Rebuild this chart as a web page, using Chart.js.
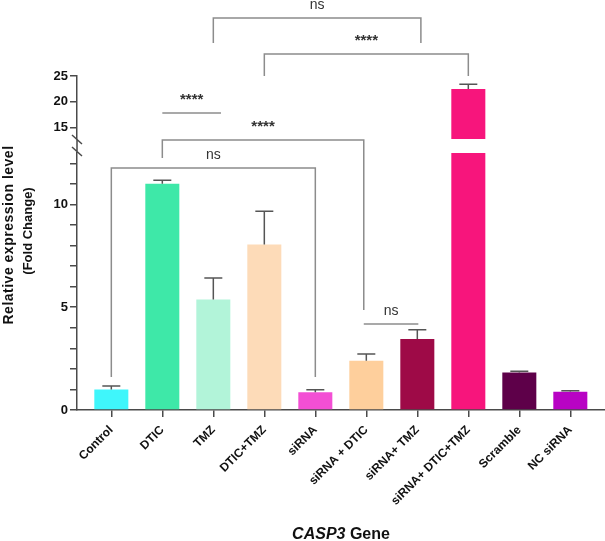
<!DOCTYPE html>
<html>
<head>
<meta charset="utf-8">
<script src="https://cdn.jsdelivr.net/npm/chart.js@4/dist/chart.umd.min.js"></script>
<style>
  html, body { margin: 0; padding: 0; background: #fff; }
  canvas { display: block; }
</style>
</head>
<body>
<canvas id="chart" width="605" height="541"></canvas>
<script>
const CATEGORIES = ['Control', 'DTIC', 'TMZ', 'DTIC+TMZ', 'siRNA', 'siRNA + DTIC', 'siRNA+ TMZ', 'siRNA+ DTIC+TMZ', 'Scramble', 'NC siRNA'];
const MEANS = [1.0, 11.0, 5.37, 8.05, 0.86, 2.39, 3.45, 22.5, 1.82, 0.89];
const SEM   = [0.17, 0.17, 1.05, 1.62, 0.12, 0.33, 0.45, 0.9, 0.07, 0.05];
const COLORS = ['#3ff6fb', '#3ee8a8', '#b2f4d9', '#fddbb8', '#f34fd4', '#fecf9c', '#9e0a47', '#f7157c', '#5e0049', '#b803c4'];

// broken y axis: lower and upper segments
const LOW_RANGE = [0, 12.5];
const HIGH_RANGE = [12.8, 25];
const LOW_TICKS = [0, 1, 2, 3, 4, 5, 6, 7, 8, 9, 10, 11, 12];
const LOW_LABELLED = [0, 5, 10];
const HIGH_TICKS = [15, 20, 25];

// significance brackets (category positions, line height in px from top, drop ends)
const BRACKETS = [
  { from: 2, to: 6.07, y: 18, drop: [43, 43], label: 'ns' },
  { from: 3, to: 7, y: 54, drop: [76, 76], label: '****' },
  { from: 1, to: 2.15, y: 113, drop: null, label: '****' },
  { from: 1, to: 4.95, y: 140, drop: [158, 310], label: '****' },
  { from: 0, to: 4, y: 168, drop: [377, 377], label: 'ns' },
  { from: 4.95, to: 6.02, y: 324, drop: null, label: 'ns' },
];

const AXIS = '#4a4a4a';
const FONT = 'Liberation Sans, Arial, Helvetica, sans-serif';

const lowData = MEANS.map((v, i) => ({ x: i, y: Math.min(v, LOW_RANGE[1]) }));
const highData = MEANS.map((v, i) => ({ x: i, y: v })).filter(p => p.y > LOW_RANGE[1]);

const barStyle = {
  backgroundColor: ctx => COLORS[ctx.raw ? ctx.raw.x : ctx.dataIndex],
  borderWidth: 0,
  grouped: false,
  barPercentage: 0.667,
  categoryPercentage: 1,
};

const extras = {
  id: 'extras',
  afterDatasetsDraw(chart) {
    const { ctx, chartArea, scales } = chart;
    const xs = scales.x, yLow = scales.yLow, yHigh = scales.yHigh;
    ctx.save();

    // error bars (upper only)
    ctx.strokeStyle = '#555';
    ctx.lineWidth = 1.5;
    MEANS.forEach((v, i) => {
      const sc = v > LOW_RANGE[1] ? yHigh : yLow;
      const x = xs.getPixelForValue(i);
      const y0 = sc.getPixelForValue(v);
      const y1 = sc.getPixelForValue(v + SEM[i]);
      ctx.beginPath();
      ctx.moveTo(x, y0); ctx.lineTo(x, y1);
      ctx.moveTo(x - 9, y1); ctx.lineTo(x + 9, y1);
      ctx.stroke();
    });

    // axis break
    const ax = chartArea.left;
    ctx.strokeStyle = AXIS;
    ctx.lineWidth = 1.5;
    ctx.beginPath();
    ctx.moveTo(ax, yHigh.bottom); ctx.lineTo(ax, yLow.top);
    for (const yc of [yHigh.bottom + 1, yLow.top - 1]) {
      ctx.moveTo(ax - 5, yc - 5); ctx.lineTo(ax + 5, yc + 4);
    }
    ctx.stroke();

    // brackets
    ctx.strokeStyle = '#8c8c8c';
    ctx.lineWidth = 1.5;
    ctx.fillStyle = '#333';
    ctx.textAlign = 'center';
    ctx.textBaseline = 'alphabetic';
    for (const b of BRACKETS) {
      const x1 = xs.getPixelForValue(b.from), x2 = xs.getPixelForValue(b.to);
      ctx.beginPath();
      if (b.drop) { ctx.moveTo(x1, b.drop[0]); ctx.lineTo(x1, b.y); ctx.lineTo(x2, b.y); ctx.lineTo(x2, b.drop[1]); }
      else { ctx.moveTo(x1, b.y); ctx.lineTo(x2, b.y); }
      ctx.stroke();
      ctx.font = b.label === 'ns' ? `14px ${FONT}` : `bold 15px ${FONT}`;
      ctx.fillText(b.label, (x1 + x2) / 2, b.y - 9);
    }

    // y axis title (two lines)
    ctx.fillStyle = '#111';
    ctx.textBaseline = 'middle';
    [['Relative expression level', 9, 235, 14, '0.5px'], ['(Fold Change)', 28, 231, 13, '0px']].forEach(([t, x, y, size, sp]) => {
      ctx.save();
      ctx.font = `bold ${size}px ${FONT}`;
      ctx.letterSpacing = sp;
      ctx.translate(x, y);
      ctx.rotate(-Math.PI / 2);
      ctx.fillText(t, 0, 0);
      ctx.restore();
    });

    // x axis title: italic gene name + plain word
    ctx.textBaseline = 'alphabetic';
    ctx.textAlign = 'left';
    const italic = `italic bold 16px ${FONT}`, plain = `bold 16px ${FONT}`;
    ctx.font = italic; const w1 = ctx.measureText('CASP3').width;
    ctx.font = plain; const w2 = ctx.measureText(' Gene').width;
    const cx = (chartArea.left + chartArea.right) / 2;
    const tx = cx - (w1 + w2) / 2;
    ctx.font = italic; ctx.fillText('CASP3', tx, 539);
    ctx.font = plain; ctx.fillText(' Gene', tx + w1, 539);

    ctx.restore();
  },
};

const yCommon = {
  type: 'linear',
  position: 'left',
  stack: 'y',
  afterFit: s => { s.width = 77; },
  grid: { drawOnChartArea: false, drawTicks: true, tickLength: 7, color: AXIS, lineWidth: 1.5 },
  border: { color: AXIS, width: 1.5 },
  ticks: { autoSkip: false, padding: 2, color: '#111', font: { family: FONT, size: 13, weight: 'bold' } },
};

new Chart(document.getElementById('chart'), {
  type: 'bar',
  data: {
    datasets: [
      { data: lowData, yAxisID: 'yLow', ...barStyle },
      { data: highData, yAxisID: 'yHigh', ...barStyle },
    ],
  },
  options: {
    responsive: false,
    animation: false,
    devicePixelRatio: 1,
    layout: { padding: { top: 76, left: 0, right: 0, bottom: 0 } },
    plugins: { legend: { display: false }, tooltip: { enabled: false } },
    scales: {
      x: {
        type: 'linear',
        offset: false,
        min: -0.673,
        max: 9.68,
        afterBuildTicks: s => { s.ticks = CATEGORIES.map((_, i) => ({ value: i })); },
        afterFit: s => { s.height = 131; },
        grid: { offset: false, drawOnChartArea: false, drawTicks: true, tickLength: 7, color: AXIS, lineWidth: 1.5 },
        border: { color: AXIS, width: 1.5 },
        ticks: {
          autoSkip: false, minRotation: 45, maxRotation: 45, padding: 6, color: '#111',
          font: { family: FONT, size: 12, weight: 'bold' },
          callback: v => CATEGORIES[v],
        },
      },
      yLow: {
        ...yCommon,
        weight: 1,
        stackWeight: 257,
        min: LOW_RANGE[0],
        max: LOW_RANGE[1],
        afterBuildTicks: s => { s.ticks = LOW_TICKS.map(v => ({ value: v })); },
        ticks: { ...yCommon.ticks, callback: v => LOW_LABELLED.includes(v) ? String(v) : '' },
      },
      yGap: {
        type: 'linear',
        position: 'left',
        stack: 'y',
        weight: 2,
        stackWeight: 14,
        afterFit: s => { s.width = 77; },
        grid: { display: false },
        border: { display: false },
        ticks: { display: false },
      },
      yHigh: {
        ...yCommon,
        weight: 3,
        stackWeight: 63,
        min: HIGH_RANGE[0],
        max: HIGH_RANGE[1],
        afterBuildTicks: s => { s.ticks = HIGH_TICKS.map(v => ({ value: v })); },
        ticks: { ...yCommon.ticks, callback: v => String(v) },
      },
    },
  },
  plugins: [extras],
});
</script>
</body>
</html>
